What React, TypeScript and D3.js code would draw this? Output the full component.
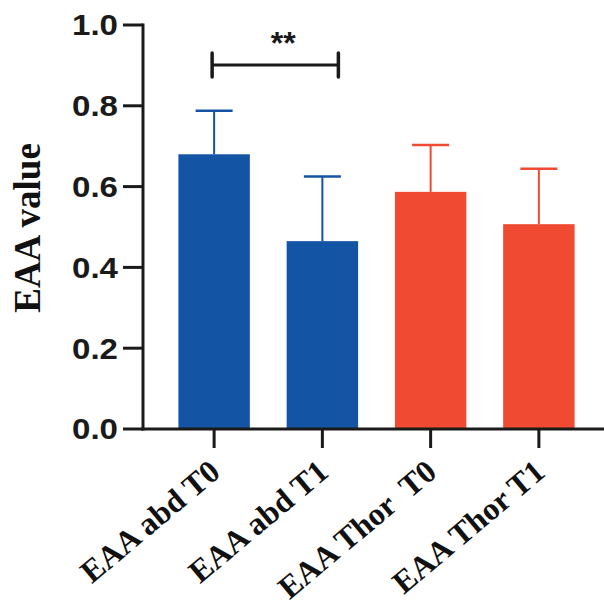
import * as d3 from 'd3';

const categories = ['EAA abd T0', 'EAA abd T1', 'EAA Thor  T0', 'EAA Thor T1'];
const means = [0.68, 0.465, 0.587, 0.507];
const sds = [0.108, 0.16, 0.116, 0.137];
const groupColors = ['#1454a4', '#1454a4', '#f04b32', '#f04b32'];
const yTicks = [0, 0.2, 0.4, 0.6, 0.8, 1.0];

const W = 604;
const H = 601;

function App() {
  const x = d3.scaleBand<string>()
    .domain(categories)
    .range([160, 593])
    .paddingInner(0.34)
    .paddingOuter(0.17);

  const y = d3.scaleLinear().domain([0, 1]).range([429, 25]);
  const fmt = d3.format('.1f');
  const bw = x.bandwidth();
  const cx = (c: string) => (x(c) as number) + bw / 2;

  // significance bracket between the two abd bars
  const bx1 = cx(categories[0]) - 2;
  const bx2 = cx(categories[1]) + 16;
  const by = 65;

  return (
    <svg width={W} height={H} style={{ position: 'absolute', left: 0, top: 0, background: '#fff' }}>
      {categories.map((c, i) => (
        <g key={c}>
          <rect x={x(c)} y={y(means[i])} width={bw} height={y(0) - y(means[i])} fill={groupColors[i]} />
          <line x1={cx(c)} x2={cx(c)} y1={y(means[i])} y2={y(means[i] + sds[i])} stroke={groupColors[i]} strokeWidth={2} />
          <line x1={cx(c) - 18.5} x2={cx(c) + 18.5} y1={y(means[i] + sds[i])} y2={y(means[i] + sds[i])} stroke={groupColors[i]} strokeWidth={2.5} />
        </g>
      ))}

      {/* y axis */}
      <line x1={143} x2={143} y1={y(1) - 1.5} y2={y(0) + 1.5} stroke="#1a1a1a" strokeWidth={3} />
      {yTicks.map(t => (
        <g key={t}>
          <line x1={123} x2={143} y1={y(t)} y2={y(t)} stroke="#1a1a1a" strokeWidth={3} />
          <text transform={`translate(118,${y(t)}) scale(1.14,1)`} dy="0.36em" textAnchor="end" fontFamily="Liberation Sans, Arial, sans-serif"
            fontWeight="bold" fontSize={29} fill="#1a1a1a">{fmt(t)}</text>
        </g>
      ))}
      <text transform={`translate(40,228) rotate(-90)`} textAnchor="middle" fontFamily="Liberation Serif, Times New Roman, serif"
        fontWeight="bold" fontSize={37} fill="#111">EAA value</text>

      {/* x axis */}
      <line x1={141.5} x2={604} y1={y(0)} y2={y(0)} stroke="#1a1a1a" strokeWidth={3} />
      {categories.map(c => (
        <g key={c}>
          <line x1={cx(c)} x2={cx(c)} y1={y(0)} y2={y(0) + 19} stroke="#1a1a1a" strokeWidth={3} />
          <text transform={`translate(${cx(c) + 8},${y(0) + 46}) rotate(-40)`} textAnchor="end" fontFamily="Liberation Serif, Times New Roman, serif"
            fontWeight="bold" fontSize={32} fill="#111" style={{ whiteSpace: 'pre' }}>{c}</text>
        </g>
      ))}

      {/* bracket */}
      <line x1={bx1} x2={bx2} y1={by} y2={by} stroke="#1a1a1a" strokeWidth={3} />
      <line x1={bx1} x2={bx1} y1={by - 12} y2={by + 12} stroke="#1a1a1a" strokeWidth={3.5} strokeLinecap="round" />
      <line x1={bx2} x2={bx2} y1={by - 12} y2={by + 12} stroke="#1a1a1a" strokeWidth={3.5} strokeLinecap="round" />
      <text x={(bx1 + bx2) / 2 + 8} y={54} textAnchor="middle" fontFamily="Liberation Sans, Arial, sans-serif"
        fontWeight="bold" fontSize={32} fill="#1a1a1a">**</text>
    </svg>
  );
}

export default App;
